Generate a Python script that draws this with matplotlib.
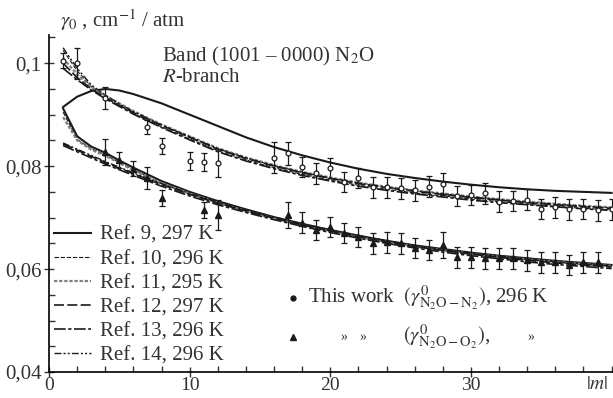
import numpy as np
import matplotlib
matplotlib.use("Agg")
import matplotlib.pyplot as plt
from matplotlib.ticker import MultipleLocator, FixedLocator

plt.rcParams['font.family'] = ['Liberation Serif', 'DejaVu Serif']
plt.rcParams['mathtext.fontset'] = 'stix'

# measured points, N2 broadening (circles) and O2 broadening (triangles)
m_n2 = [1, 2, 4, 7, 8, 10, 11, 12, 16, 17, 18, 19, 20, 21, 22, 23, 24, 25, 26,
        27, 28, 29, 30, 31, 32, 33, 34, 35, 36, 37, 38, 39, 40]
g_n2 = [0.1005, 0.1000, 0.0932, 0.0876, 0.0839, 0.0810, 0.0808, 0.0806, 0.0816,
        0.0825, 0.0798, 0.0786, 0.0796, 0.0769, 0.0777, 0.0759, 0.0759, 0.0757,
        0.0753, 0.0760, 0.0765, 0.0742, 0.0744, 0.0747, 0.0731, 0.0732, 0.0735,
        0.0717, 0.0720, 0.0716, 0.0717, 0.0714, 0.0716]
e_n2 = [0.0015, 0.0030, 0.0021, 0.0014, 0.0015, 0.0018, 0.0018, 0.0027, 0.0030,
        0.0022, 0.0020, 0.0020, 0.0020, 0.0020, 0.0020, 0.0020, 0.0020, 0.0020,
        0.0020, 0.0020, 0.0022, 0.0020, 0.0020, 0.0020, 0.0020, 0.0020, 0.0020,
        0.0020, 0.0020, 0.0020, 0.0020, 0.0020, 0.0020]

m_o2 = [4, 5, 6, 7, 8, 11, 12, 17, 18, 19, 20, 21, 22, 23, 24, 25, 26, 27, 28,
        29, 30, 31, 32, 33, 34, 35, 36, 37, 38, 39]
g_o2 = [0.0827, 0.0812, 0.0795, 0.0777, 0.0738, 0.0715, 0.0705, 0.0705, 0.0690,
        0.0676, 0.0682, 0.0670, 0.0662, 0.0650, 0.0652, 0.0650, 0.0641, 0.0637,
        0.0647, 0.0623, 0.0623, 0.0621, 0.0621, 0.0621, 0.0617, 0.0613, 0.0613,
        0.0608, 0.0613, 0.0613]
e_o2 = [0.0025, 0.0015, 0.0015, 0.0022, 0.0015, 0.0015, 0.0030, 0.0025, 0.0020,
        0.0020, 0.0020, 0.0020, 0.0020, 0.0020, 0.0020, 0.0020, 0.0020, 0.0020,
        0.0025, 0.0020, 0.0020, 0.0020, 0.0020, 0.0020, 0.0020, 0.0020, 0.0020,
        0.0020, 0.0020, 0.0020]

# calculated curves from refs 9-14
m_ref = [1, 2, 3, 4, 5, 6, 8, 10, 12, 14, 16, 18, 20, 22, 24, 26, 28, 30, 32, 34, 36, 38, 40]

n2_ref9 = [0.0915, 0.0935, 0.0946, 0.0950, 0.0947, 0.0940, 0.0922, 0.0900, 0.0878, 0.0856, 0.0837, 0.0821,
           0.0807, 0.0795, 0.0785, 0.0777, 0.0770, 0.0764, 0.0759, 0.0755, 0.0752, 0.0750, 0.0748]
n2_ref10 = [0.1025, 0.0985, 0.0955, 0.0935, 0.0918, 0.0902, 0.0876, 0.0853, 0.0830, 0.0812, 0.0797, 0.0784,
            0.0773, 0.0763, 0.0755, 0.0748, 0.0742, 0.0736, 0.0731, 0.0726, 0.0722, 0.0718, 0.0715]
n2_ref11 = [0.1010, 0.0978, 0.0954, 0.0937, 0.0922, 0.0907, 0.0881, 0.0858, 0.0835, 0.0817, 0.0802, 0.0789,
            0.0778, 0.0768, 0.0760, 0.0753, 0.0747, 0.0741, 0.0736, 0.0731, 0.0727, 0.0723, 0.0720]
n2_ref12 = [0.1000, 0.0972, 0.0950, 0.0933, 0.0918, 0.0904, 0.0879, 0.0856, 0.0833, 0.0815, 0.0800, 0.0787,
            0.0776, 0.0766, 0.0758, 0.0751, 0.0745, 0.0739, 0.0734, 0.0729, 0.0725, 0.0721, 0.0718]
n2_ref13 = [0.0990, 0.0968, 0.0948, 0.0931, 0.0916, 0.0901, 0.0875, 0.0851, 0.0828, 0.0810, 0.0795, 0.0782,
            0.0771, 0.0761, 0.0753, 0.0746, 0.0740, 0.0734, 0.0729, 0.0725, 0.0721, 0.0717, 0.0714]
n2_ref14 = [0.1030, 0.0990, 0.0958, 0.0938, 0.0921, 0.0906, 0.0880, 0.0857, 0.0834, 0.0816, 0.0801, 0.0788,
            0.0777, 0.0767, 0.0759, 0.0752, 0.0746, 0.0740, 0.0735, 0.0730, 0.0726, 0.0722, 0.0719]

o2_ref9 = [0.0912, 0.0858, 0.0838, 0.0826, 0.0811, 0.0797, 0.0771, 0.0750, 0.0732, 0.0716, 0.0701, 0.0688,
           0.0676, 0.0665, 0.0655, 0.0646, 0.0639, 0.0632, 0.0626, 0.0621, 0.0616, 0.0612, 0.0608]
o2_ref10 = [0.0905, 0.0852, 0.0834, 0.0822, 0.0807, 0.0793, 0.0767, 0.0746, 0.0728, 0.0712, 0.0698, 0.0685,
            0.0673, 0.0662, 0.0652, 0.0643, 0.0636, 0.0629, 0.0623, 0.0618, 0.0613, 0.0609, 0.0605]
o2_ref11 = [0.0895, 0.0850, 0.0832, 0.0820, 0.0806, 0.0792, 0.0767, 0.0747, 0.0729, 0.0713, 0.0699, 0.0686,
            0.0674, 0.0663, 0.0653, 0.0644, 0.0637, 0.0630, 0.0624, 0.0619, 0.0614, 0.0610, 0.0606]
o2_ref12 = [0.0843, 0.0831, 0.0819, 0.0807, 0.0796, 0.0785, 0.0764, 0.0745, 0.0728, 0.0713, 0.0699, 0.0686,
            0.0674, 0.0663, 0.0653, 0.0644, 0.0636, 0.0629, 0.0623, 0.0617, 0.0612, 0.0608, 0.0604]
o2_ref13 = [0.0840, 0.0828, 0.0816, 0.0804, 0.0793, 0.0782, 0.0761, 0.0742, 0.0725, 0.0710, 0.0696, 0.0683,
            0.0671, 0.0660, 0.0650, 0.0641, 0.0633, 0.0626, 0.0620, 0.0614, 0.0609, 0.0605, 0.0601]
o2_ref14 = [0.0845, 0.0833, 0.0821, 0.0809, 0.0798, 0.0787, 0.0766, 0.0747, 0.0730, 0.0715, 0.0701, 0.0688,
            0.0676, 0.0665, 0.0655, 0.0646, 0.0638, 0.0631, 0.0625, 0.0619, 0.0614, 0.0610, 0.0606]

ref_labels = ['Ref. 9, 297 K', 'Ref. 10, 296 K', 'Ref. 11, 295 K',
              'Ref. 12, 297 K', 'Ref. 13, 296 K', 'Ref. 14, 296 K']

ink = '0.1'
styles = [dict(color=ink, lw=1.5, ls='-'),
          dict(color=ink, lw=0.8, ls=(0, (4, 1.5))),
          dict(color='0.5', lw=1.6, ls=(0, (1.5, 0.8))),
          dict(color=ink, lw=1.2, ls=(0, (6, 2))),
          dict(color=ink, lw=1.2, ls=(0, (7, 1.5, 2, 1.5))),
          dict(color=ink, lw=1.0, ls=(0, (5, 1.5, 1.5, 1.5, 1.5, 1.5)))]

fig = plt.figure(figsize=(6.13, 3.98), dpi=100)
ax = fig.add_axes([0.080, 0.0653, 0.92, 0.847])

n2_curves = [n2_ref9, n2_ref10, n2_ref11, n2_ref12, n2_ref13, n2_ref14]
o2_curves = [o2_ref9, o2_ref10, o2_ref11, o2_ref12, o2_ref13, o2_ref14]
handles = []
for lab, st, cn, co in zip(ref_labels, styles, n2_curves, o2_curves):
    h, = ax.plot(m_ref, cn, label=lab, **st)
    ax.plot(m_ref, co, **st)
    handles.append(h)

ax.errorbar(m_n2, g_n2, yerr=e_n2, fmt='o', ms=3.5, mfc='white', mec=ink, mew=0.9,
            ecolor=ink, elinewidth=0.9, capsize=2, capthick=0.9, zorder=5)
ax.errorbar(m_o2, g_o2, yerr=e_o2, fmt='^', ms=4, mfc=ink, mec=ink,
            ecolor=ink, elinewidth=0.9, capsize=2, capthick=0.9, zorder=5)

ax.set_xlim(0, 40.1)
ax.set_ylim(0.04, 0.1055)
for s in ['top', 'right']:
    ax.spines[s].set_visible(False)
ax.spines['left'].set_linewidth(1.2)
ax.spines['bottom'].set_linewidth(1.2)

ax.xaxis.set_major_locator(FixedLocator([0, 10, 20, 30]))
ax.xaxis.set_minor_locator(MultipleLocator(2))
ax.yaxis.set_major_locator(FixedLocator([0.04, 0.06, 0.08, 0.1]))
ax.yaxis.set_minor_locator(MultipleLocator(0.005))
ax.set_yticklabels(['0,04', '0,06', '0,08', '0,1'])
ax.tick_params(which='major', direction='inout', length=7, width=1, labelsize=15, colors='0.2')
ax.tick_params(which='minor', direction='in', length=4, width=1, colors='0.2')
ax.tick_params(axis='x', pad=0, labelsize=14)
ax.tick_params(axis='y', pad=2)

fs = 15
tc = '0.2'
ax.text(39.0, 0.0393, '$|m|$', fontsize=14, color=tc, ha='center', va='top', clip_on=False)
fig.text(60 / 613, 1 - 20 / 398, r'$\gamma_0$ , cm$^{-1}$ / atm', fontsize=fs, color=tc,
         va='center', ha='left')
ax.text(8.0, 0.1013, r'Band (1001 – 0000) N$_2$O', fontsize=fs, color=tc, va='center')
ax.text(8.0, 0.0973, r'$R$-branch', fontsize=fs, color=tc, va='center')

leg = ax.legend(handles=handles, loc='upper left', bbox_to_anchor=(0.008, 0.435),
                frameon=False, fontsize=fs, handlelength=1.8, handletextpad=0.45,
                labelspacing=0.22, borderaxespad=0, borderpad=0)
for t in leg.get_texts():
    t.set_color(tc)

# second legend for the measured points
ax.plot([17.37], [0.0544], 'o', ms=3.5, color=ink)
ax.text(18.4, 0.0544, r'This work  $(\gamma^0_{\mathrm{N_2O-N_2}})$, 296 K',
        fontsize=fs, color=tc, va='center')
ax.plot([17.37], [0.0468], '^', ms=4.5, color=ink)
ax.text(20.7, 0.0468, '»', fontsize=10, color=tc, va='center')
ax.text(22.1, 0.0468, '»', fontsize=10, color=tc, va='center')
ax.text(25.2, 0.0468, r'$(\gamma^0_{\mathrm{N_2O-O_2}})$,', fontsize=fs, color=tc, va='center')
ax.text(34.0, 0.0468, '»', fontsize=10, color=tc, va='center')

fig.savefig('out.png', dpi=100)
